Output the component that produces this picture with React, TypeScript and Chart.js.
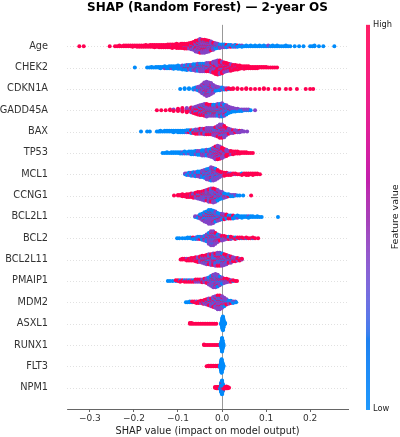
import { useEffect, useRef } from 'react';
import { Chart, registerables } from 'chart.js';

Chart.register(...registerables);

const TITLE = 'SHAP (Random Forest) \u2014 2-year OS';
const X_LABEL = 'SHAP value (impact on model output)';
const COLORBAR_LABEL = 'Feature value';
const COLORBAR_HIGH = 'High';
const COLORBAR_LOW = 'Low';

const FEATURES = ['Age', 'CHEK2', 'CDKN1A', 'GADD45A', 'BAX', 'TP53', 'MCL1', 'CCNG1', 'BCL2L1', 'BCL2', 'BCL2L11', 'PMAIP1', 'MDM2', 'ASXL1', 'RUNX1', 'FLT3', 'NPM1'];
const X_TICKS = [-0.3, -0.2, -0.1, 0, 0.1, 0.2];
const X_MIN = -0.352;
const X_MAX = 0.286;

// feature-value level of each group of points: low (blue), mid (purple), high (red)
const FEATURE_VALUE_LEVELS = [0, 0.4, 1];

// each entry: [SHAP value, points with low value, mid value, high value]
const AGE = [
  [-0.324, 0, 0, 1], [-0.314, 0, 0, 1], [-0.255, 0, 0, 1], [-0.243, 0, 0, 1], [-0.238, 0, 0, 1], [-0.233, 0, 0, 2],
  [-0.228, 0, 0, 1], [-0.223, 0, 0, 2], [-0.218, 0, 0, 2], [-0.213, 0, 0, 2], [-0.208, 0, 0, 2], [-0.203, 0, 0, 3],
  [-0.198, 0, 0, 2], [-0.193, 0, 0, 3], [-0.188, 0, 0, 3], [-0.183, 0, 0, 3], [-0.178, 0, 0, 3], [-0.173, 0, 0, 4],
  [-0.168, 0, 0, 3], [-0.163, 0, 0, 4], [-0.158, 0, 0, 4], [-0.153, 0, 0, 5], [-0.148, 0, 0, 4], [-0.143, 0, 0, 5],
  [-0.138, 0, 0, 5], [-0.133, 0, 0, 5], [-0.128, 0, 0, 5], [-0.123, 0, 1, 5], [-0.118, 0, 0, 6], [-0.113, 0, 1, 6],
  [-0.108, 0, 0, 6], [-0.103, 0, 1, 7], [-0.098, 0, 0, 7], [-0.093, 0, 1, 7], [-0.089, 0, 1, 7], [-0.085, 0, 2, 7],
  [-0.08, 0, 2, 7], [-0.075, 0, 3, 7], [-0.07, 1, 4, 7], [-0.065, 1, 6, 7],
  [-0.06, 2, 9, 8], [-0.055, 2, 11, 8], [-0.05, 3, 13, 8], [-0.045, 3, 13, 7], [-0.04, 3, 13, 7], [-0.035, 3, 12, 6],
  [-0.03, 3, 11, 5], [-0.025, 3, 9, 4], [-0.02, 3, 7, 3], [-0.015, 3, 5, 2], [-0.01, 3, 4, 1], [-0.005, 3, 3, 1],
  [0.0, 3, 2, 1], [0.005, 3, 2, 1], [0.01, 3, 1, 1], [0.015, 3, 1, 0], [0.02, 2, 1, 1], [0.025, 2, 1, 0],
  [0.03, 3, 1, 0], [0.035, 2, 0, 1], [0.04, 2, 0, 0], [0.045, 2, 1, 0], [0.05, 1, 0, 0], [0.055, 2, 0, 0],
  [0.06, 1, 0, 0], [0.065, 2, 0, 0], [0.07, 1, 0, 0], [0.075, 2, 0, 0], [0.08, 1, 0, 0], [0.085, 2, 0, 0],
  [0.09, 1, 0, 0], [0.095, 2, 0, 0], [0.1, 1, 0, 0], [0.105, 1, 1, 0], [0.11, 1, 0, 0], [0.115, 2, 0, 0],
  [0.12, 1, 0, 0], [0.125, 2, 0, 0], [0.13, 1, 0, 0], [0.135, 1, 0, 0], [0.14, 1, 0, 0], [0.145, 2, 0, 0],
  [0.15, 1, 0, 0], [0.155, 1, 0, 0], [0.165, 1, 0, 0], [0.175, 1, 0, 0], [0.185, 1, 0, 0], [0.2, 1, 0, 0],
  [0.205, 1, 0, 0], [0.21, 2, 0, 0], [0.22, 1, 0, 0], [0.23, 1, 0, 0], [0.255, 1, 0, 0],
];
const CHEK2 = [
  [-0.198, 1, 0, 0], [-0.17, 1, 0, 0], [-0.165, 1, 0, 0], [-0.16, 2, 0, 0], [-0.155, 1, 0, 0], [-0.15, 2, 0, 0],
  [-0.145, 2, 0, 0], [-0.14, 3, 0, 0], [-0.135, 2, 0, 0], [-0.13, 3, 1, 0], [-0.125, 3, 0, 0], [-0.12, 4, 0, 0],
  [-0.115, 3, 1, 0], [-0.11, 4, 1, 0], [-0.105, 4, 0, 0], [-0.1, 5, 1, 0], [-0.095, 4, 1, 0], [-0.09, 5, 2, 0],
  [-0.085, 5, 1, 1], [-0.08, 6, 2, 1], [-0.075, 5, 2, 1], [-0.07, 5, 3, 1],
  [-0.065, 5, 4, 1], [-0.06, 5, 5, 1], [-0.055, 4, 6, 2], [-0.05, 4, 7, 2], [-0.045, 4, 7, 2], [-0.04, 3, 8, 2],
  [-0.035, 3, 8, 3], [-0.03, 3, 7, 4], [-0.025, 2, 8, 5], [-0.02, 2, 9, 7], [-0.015, 1, 10, 10], [-0.01, 1, 10, 12],
  [-0.005, 1, 9, 12], [0.0, 1, 7, 11], [0.005, 0, 6, 10], [0.01, 0, 5, 9], [0.015, 0, 4, 8], [0.02, 0, 3, 8],
  [0.025, 0, 2, 7], [0.03, 0, 2, 6], [0.035, 0, 1, 6], [0.04, 0, 1, 5], [0.045, 0, 0, 4], [0.05, 0, 1, 4],
  [0.055, 0, 0, 4], [0.06, 0, 0, 4], [0.065, 0, 0, 3], [0.07, 0, 0, 3], [0.075, 0, 0, 3], [0.08, 0, 0, 3],
  [0.085, 0, 0, 2], [0.09, 0, 0, 2], [0.095, 0, 0, 2], [0.1, 0, 0, 2], [0.105, 0, 0, 1], [0.11, 0, 0, 1],
  [0.115, 0, 0, 1], [0.12, 0, 0, 1], [0.125, 0, 0, 1],
];
const CDKN1A = [
  [-0.095, 1, 0, 0], [-0.085, 2, 0, 0], [-0.075, 2, 0, 0], [-0.065, 3, 0, 0], [-0.06, 3, 1, 0], [-0.055, 2, 3, 1],
  [-0.05, 2, 6, 1], [-0.045, 3, 10, 2], [-0.04, 3, 14, 3], [-0.035, 3, 16, 4], [-0.03, 3, 15, 3], [-0.025, 3, 12, 3],
  [-0.02, 2, 9, 2], [-0.015, 2, 5, 1], [-0.01, 2, 3, 1], [-0.005, 3, 2, 0], [0.0, 3, 1, 0], [0.005, 2, 1, 0],
  [0.01, 1, 1, 1], [0.015, 1, 0, 1], [0.02, 0, 0, 1], [0.025, 0, 0, 2], [0.035, 0, 0, 2], [0.045, 0, 0, 1],
  [0.055, 0, 0, 2], [0.065, 0, 0, 1], [0.075, 0, 0, 1], [0.085, 0, 0, 1], [0.095, 0, 0, 2], [0.105, 0, 0, 1],
  [0.12, 0, 0, 1], [0.13, 0, 0, 1], [0.145, 0, 0, 1], [0.155, 0, 0, 1], [0.17, 0, 0, 1], [0.19, 0, 0, 1],
  [0.2, 0, 0, 1], [0.207, 0, 0, 1],
];
const GADD45A = [
  [-0.148, 0, 0, 1], [-0.138, 0, 0, 1], [-0.128, 0, 0, 1], [-0.118, 0, 0, 2], [-0.11, 0, 1, 2], [-0.1, 0, 1, 3],
  [-0.09, 1, 1, 4], [-0.08, 0, 2, 5], [-0.07, 1, 2, 5], [-0.065, 1, 3, 5], [-0.06, 2, 4, 5], [-0.055, 2, 5, 6],
  [-0.05, 3, 6, 6], [-0.045, 3, 7, 6], [-0.04, 4, 8, 6], [-0.035, 4, 9, 6], [-0.03, 4, 8, 5], [-0.025, 4, 8, 5],
  [-0.02, 5, 8, 4], [-0.015, 5, 8, 4], [-0.01, 5, 9, 4], [-0.005, 6, 9, 4], [0.0, 6, 10, 4], [0.005, 5, 9, 3],
  [0.01, 5, 7, 2], [0.015, 4, 5, 1], [0.02, 3, 4, 1], [0.025, 3, 3, 0], [0.03, 3, 2, 0], [0.035, 2, 2, 0],
  [0.04, 2, 1, 0], [0.045, 2, 1, 0], [0.05, 1, 1, 0], [0.055, 1, 1, 0], [0.06, 1, 1, 0], [0.065, 1, 0, 0], [0.075, 0, 1, 0],
];
const BAX = [
  [-0.184, 1, 0, 0], [-0.17, 1, 0, 0], [-0.164, 1, 0, 0], [-0.148, 1, 0, 0], [-0.144, 1, 0, 0], [-0.14, 2, 0, 0],
  [-0.135, 1, 0, 0], [-0.13, 2, 0, 0], [-0.125, 2, 0, 0], [-0.12, 2, 0, 0], [-0.115, 2, 0, 0], [-0.11, 3, 0, 0],
  [-0.105, 2, 0, 0], [-0.1, 3, 0, 0], [-0.095, 3, 0, 0], [-0.09, 3, 0, 0], [-0.085, 3, 0, 0], [-0.08, 3, 1, 0],
  [-0.075, 3, 0, 1], [-0.07, 3, 1, 1],
  [-0.065, 2, 1, 2], [-0.06, 2, 2, 3], [-0.055, 2, 2, 3], [-0.05, 2, 3, 3], [-0.045, 2, 4, 2], [-0.04, 2, 5, 2],
  [-0.035, 2, 6, 2], [-0.03, 2, 6, 2], [-0.025, 2, 6, 2], [-0.02, 2, 7, 2], [-0.015, 2, 8, 3], [-0.01, 2, 10, 4],
  [-0.005, 3, 12, 5], [0.0, 2, 12, 6], [0.005, 2, 10, 5], [0.01, 1, 7, 3], [0.015, 1, 5, 2], [0.02, 1, 4, 1],
  [0.025, 1, 3, 1], [0.03, 0, 3, 1], [0.035, 0, 3, 0], [0.04, 0, 2, 1], [0.045, 0, 2, 0], [0.05, 0, 1, 0], [0.057, 0, 1, 0],
];
const TP53 = [
  [-0.135, 1, 0, 0], [-0.13, 1, 0, 0], [-0.125, 2, 0, 0], [-0.12, 1, 0, 0], [-0.115, 2, 0, 0], [-0.11, 2, 0, 0],
  [-0.105, 2, 0, 0], [-0.1, 2, 0, 0], [-0.095, 3, 0, 0], [-0.09, 2, 1, 0], [-0.085, 3, 1, 0], [-0.08, 3, 0, 0],
  [-0.075, 3, 1, 0], [-0.07, 4, 1, 0], [-0.065, 4, 1, 0], [-0.06, 4, 2, 0], [-0.055, 4, 2, 1], [-0.05, 4, 3, 0],
  [-0.045, 4, 4, 1], [-0.04, 4, 4, 1], [-0.035, 4, 5, 1], [-0.03, 3, 6, 2], [-0.025, 3, 8, 2], [-0.02, 3, 10, 3],
  [-0.015, 3, 13, 5], [-0.01, 2, 14, 6], [-0.005, 2, 12, 6], [0.0, 1, 10, 6], [0.005, 1, 7, 5], [0.01, 1, 5, 5],
  [0.015, 0, 3, 4], [0.02, 0, 2, 4], [0.025, 0, 1, 4], [0.03, 0, 1, 3], [0.035, 0, 1, 3], [0.04, 0, 0, 3],
  [0.045, 0, 0, 2], [0.05, 0, 0, 2], [0.055, 0, 0, 2], [0.06, 0, 0, 1], [0.065, 0, 0, 1], [0.07, 0, 0, 1],
];
const MCL1 = [
  [-0.084, 1, 1, 0], [-0.08, 2, 1, 0], [-0.075, 3, 1, 0], [-0.07, 3, 2, 0], [-0.065, 4, 2, 0], [-0.06, 4, 3, 0],
  [-0.055, 4, 3, 1], [-0.05, 4, 4, 1], [-0.045, 4, 5, 1], [-0.04, 5, 6, 1], [-0.035, 5, 8, 2], [-0.03, 5, 10, 2],
  [-0.025, 5, 12, 3], [-0.02, 4, 12, 3], [-0.015, 4, 10, 3], [-0.01, 3, 7, 3], [-0.005, 2, 4, 3], [0.0, 1, 2, 3],
  [0.005, 1, 1, 3], [0.01, 0, 1, 3], [0.015, 0, 1, 2], [0.02, 0, 1, 2], [0.025, 0, 0, 2], [0.03, 0, 1, 1],
  [0.035, 0, 0, 1], [0.04, 0, 0, 1], [0.045, 1, 0, 2], [0.05, 0, 0, 2], [0.055, 0, 0, 3], [0.06, 0, 0, 3], [0.065, 0, 0, 2],
  [0.07, 0, 0, 3], [0.075, 0, 0, 2], [0.08, 0, 0, 2], [0.086, 0, 0, 1],
];
const CCNG1 = [
  [-0.109, 0, 0, 1], [-0.1, 0, 0, 2], [-0.095, 0, 0, 2], [-0.09, 0, 1, 3], [-0.085, 0, 0, 3], [-0.08, 1, 1, 3],
  [-0.075, 0, 1, 4], [-0.07, 1, 1, 4], [-0.065, 1, 2, 4], [-0.06, 1, 3, 4], [-0.055, 2, 4, 4], [-0.05, 2, 5, 4],
  [-0.045, 2, 7, 4], [-0.04, 3, 8, 4], [-0.035, 3, 9, 4], [-0.03, 4, 10, 5], [-0.025, 4, 11, 5], [-0.02, 4, 12, 5],
  [-0.015, 4, 11, 4], [-0.01, 4, 9, 3], [-0.005, 3, 7, 2], [0.0, 3, 5, 2], [0.005, 3, 3, 1], [0.01, 2, 2, 1],
  [0.015, 2, 1, 1], [0.02, 2, 1, 0], [0.025, 2, 1, 0], [0.03, 1, 1, 0], [0.035, 1, 0, 0], [0.04, 1, 0, 0],
  [0.048, 1, 0, 0], [0.066, 0, 0, 1],
];
const BCL2L1 = [
  [-0.061, 1, 1, 0], [-0.055, 2, 1, 0], [-0.05, 3, 2, 1], [-0.045, 4, 4, 1], [-0.04, 5, 6, 2], [-0.035, 5, 8, 2],
  [-0.03, 6, 10, 3], [-0.025, 6, 10, 3], [-0.02, 5, 9, 3], [-0.015, 5, 7, 2], [-0.01, 4, 5, 2], [-0.005, 3, 4, 2],
  [0.0, 3, 3, 2], [0.005, 2, 2, 3], [0.01, 2, 1, 3], [0.015, 2, 1, 2], [0.02, 2, 1, 2], [0.025, 3, 1, 1],
  [0.03, 3, 0, 0], [0.035, 3, 1, 0], [0.04, 2, 0, 0], [0.045, 3, 0, 0], [0.05, 2, 0, 0], [0.055, 2, 0, 0],
  [0.06, 2, 1, 0], [0.065, 2, 0, 0], [0.07, 2, 0, 0], [0.075, 1, 0, 0], [0.08, 2, 0, 0], [0.085, 1, 0, 0],
  [0.09, 1, 0, 0], [0.127, 1, 0, 0],
];
const BCL2 = [
  [-0.102, 1, 0, 0], [-0.097, 1, 0, 0], [-0.09, 1, 0, 0], [-0.084, 1, 0, 0], [-0.078, 2, 0, 0], [-0.072, 2, 0, 0],
  [-0.066, 2, 0, 1], [-0.06, 2, 1, 0], [-0.055, 3, 1, 0], [-0.05, 2, 1, 1], [-0.045, 3, 2, 0], [-0.04, 3, 3, 1],
  [-0.035, 3, 6, 1], [-0.03, 4, 9, 2], [-0.025, 4, 12, 3], [-0.02, 4, 12, 3], [-0.015, 3, 9, 3], [-0.01, 3, 6, 2],
  [-0.005, 2, 4, 2], [0.0, 2, 3, 2], [0.005, 2, 2, 2], [0.01, 1, 1, 2], [0.015, 2, 1, 1], [0.02, 1, 1, 2],
  [0.025, 1, 0, 1], [0.03, 1, 0, 2], [0.035, 1, 0, 1], [0.04, 0, 0, 2], [0.045, 1, 0, 1], [0.05, 0, 0, 1],
  [0.055, 1, 0, 1], [0.06, 0, 0, 1], [0.065, 0, 0, 1], [0.07, 1, 0, 1], [0.075, 0, 0, 1], [0.082, 0, 0, 1],
];
const BCL2L11 = [
  [-0.094, 0, 0, 1], [-0.09, 0, 0, 2], [-0.085, 0, 0, 2], [-0.08, 0, 1, 2], [-0.075, 0, 0, 3], [-0.07, 1, 0, 3],
  [-0.065, 0, 1, 3], [-0.06, 1, 1, 4], [-0.055, 1, 2, 4], [-0.05, 1, 3, 4], [-0.045, 2, 4, 4], [-0.04, 2, 5, 4],
  [-0.035, 3, 6, 4], [-0.03, 3, 7, 4], [-0.025, 3, 8, 4], [-0.02, 4, 8, 4], [-0.015, 4, 9, 4], [-0.01, 4, 10, 4],
  [-0.005, 4, 10, 4], [0.0, 4, 10, 3], [0.005, 3, 9, 3], [0.01, 3, 7, 3], [0.015, 2, 5, 3], [0.02, 2, 4, 3],
  [0.025, 1, 3, 2], [0.03, 1, 2, 2], [0.035, 0, 2, 2], [0.04, 0, 1, 2], [0.045, 0, 1, 1],
];
const PMAIP1 = [
  [-0.123, 1, 0, 0], [-0.118, 1, 0, 0], [-0.112, 1, 0, 0], [-0.105, 1, 0, 1], [-0.1, 0, 0, 2], [-0.095, 1, 0, 2],
  [-0.09, 0, 0, 2], [-0.085, 1, 0, 2], [-0.08, 0, 1, 2], [-0.075, 1, 0, 2], [-0.07, 0, 1, 2], [-0.065, 1, 0, 2],
  [-0.06, 1, 1, 2], [-0.055, 1, 1, 2], [-0.05, 1, 1, 2], [-0.045, 1, 2, 2], [-0.04, 2, 2, 2], [-0.035, 2, 4, 2],
  [-0.03, 3, 6, 2], [-0.025, 4, 9, 2], [-0.02, 4, 12, 3], [-0.015, 4, 13, 3], [-0.01, 4, 11, 3], [-0.005, 3, 8, 2],
  [0.0, 3, 5, 2], [0.005, 2, 3, 2], [0.01, 2, 2, 2], [0.015, 1, 1, 2], [0.02, 1, 1, 1], [0.025, 1, 0, 1],
  [0.03, 0, 0, 1], [0.034, 0, 0, 1],
];
const MDM2 = [
  [-0.082, 1, 0, 0], [-0.078, 1, 0, 0], [-0.073, 2, 0, 0], [-0.068, 1, 0, 1], [-0.063, 0, 0, 2], [-0.058, 0, 1, 2],
  [-0.053, 0, 0, 3], [-0.048, 1, 1, 2], [-0.043, 1, 1, 3], [-0.04, 1, 2, 3], [-0.035, 2, 3, 3], [-0.03, 2, 5, 3],
  [-0.025, 2, 6, 3], [-0.02, 3, 8, 3], [-0.015, 3, 10, 3], [-0.01, 3, 12, 4], [-0.005, 3, 12, 4], [0.0, 3, 10, 3],
  [0.005, 3, 7, 2], [0.01, 2, 4, 2], [0.015, 2, 2, 1], [0.02, 2, 1, 1], [0.025, 2, 1, 0], [0.03, 1, 1, 0], [0.032, 1, 0, 0],
];
const ASXL1 = [
  [-0.073, 0, 0, 2], [-0.069, 0, 0, 2], [-0.065, 0, 0, 1], [-0.061, 0, 0, 1], [-0.057, 0, 0, 1], [-0.053, 0, 0, 1],
  [-0.049, 0, 0, 1], [-0.045, 0, 0, 1], [-0.041, 0, 0, 1], [-0.037, 0, 0, 1], [-0.033, 0, 0, 1], [-0.029, 0, 0, 1],
  [-0.025, 0, 0, 1], [-0.021, 0, 0, 1], [-0.017, 0, 0, 1], [-0.013, 0, 0, 1],
  [-0.002, 3, 0, 0], [0.0, 10, 0, 0], [0.001, 20, 0, 0], [0.002, 24, 0, 0], [0.003, 16, 0, 0], [0.005, 6, 0, 0], [0.007, 2, 0, 0],
];
const RUNX1 = [
  [-0.041, 0, 0, 2], [-0.037, 0, 0, 1], [-0.033, 0, 0, 1], [-0.029, 0, 0, 1], [-0.025, 0, 0, 1], [-0.021, 0, 0, 1],
  [-0.017, 0, 0, 1], [-0.013, 0, 0, 1], [-0.009, 0, 0, 1], [-0.006, 0, 0, 1],
  [-0.003, 4, 0, 0], [-0.001, 14, 0, 0], [0.0, 24, 0, 0], [0.001, 16, 0, 0], [0.003, 5, 0, 0],
];
const FLT3 = [
  [-0.035, 0, 0, 1], [-0.031, 0, 0, 2], [-0.027, 0, 0, 2], [-0.023, 0, 0, 2], [-0.019, 0, 0, 2], [-0.015, 0, 0, 2],
  [-0.011, 0, 0, 2], [-0.008, 0, 0, 2], [-0.005, 0, 0, 1],
  [-0.004, 5, 0, 0], [-0.002, 16, 0, 0], [-0.001, 24, 0, 0], [0.001, 12, 0, 0], [0.003, 4, 0, 0],
];
const NPM1 = [
  [-0.016, 0, 0, 2], [-0.013, 0, 0, 3], [-0.01, 0, 0, 3], [-0.007, 0, 0, 3], [-0.004, 3, 0, 2], [-0.002, 16, 0, 2],
  [0.0, 24, 0, 2], [0.002, 10, 0, 3], [0.004, 2, 0, 3], [0.007, 0, 0, 3], [0.01, 0, 0, 4], [0.013, 0, 0, 3], [0.016, 0, 0, 1],
];

const FEATURE_ROWS = [AGE, CHEK2, CDKN1A, GADD45A, BAX, TP53, MCL1, CCNG1, BCL2L1, BCL2, BCL2L11, PMAIP1, MDM2, ASXL1, RUNX1, FLT3, NPM1];

// shap "red_blue" colormap (LCH interpolation)
function redBlue(t: number): string {
  const L = t < 0.5 ? 54 + (40 - 54) * (t / 0.5) : 40 + (54 - 40) * ((t - 0.5) / 0.5);
  const C = 70 + 20 * t;
  const h = 4.6588 + (0.35470565 + 2 * Math.PI - 4.6588) * t;
  const a = C * Math.cos(h);
  const b = C * Math.sin(h);
  const fy = (L + 16) / 116;
  const fx = fy + a / 500;
  const fz = fy - b / 200;
  const finv = (v: number) => (v * v * v > 0.008856 ? v * v * v : (v - 16 / 116) / 7.787);
  const X = 0.95047 * finv(fx);
  const Y = 1.0 * finv(fy);
  const Z = 1.08883 * finv(fz);
  const lin = [
    3.2406 * X - 1.5372 * Y - 0.4986 * Z,
    -0.9689 * X + 1.8758 * Y + 0.0415 * Z,
    0.0557 * X - 0.204 * Y + 1.057 * Z,
  ];
  const rgb = lin.map((c) => {
    const g = c <= 0.0031308 ? 12.92 * c : 1.055 * Math.pow(Math.max(c, 0), 1 / 2.4) - 0.055;
    return Math.round(Math.min(1, Math.max(0, g)) * 255);
  });
  return `rgb(${rgb[0]},${rgb[1]},${rgb[2]})`;
}

// beeswarm layout (same stacking rule as shap's summary plot)
function buildPoints() {
  const points: { x: number; y: number }[] = [];
  const colors: string[] = [];
  const levelColors = FEATURE_VALUE_LEVELS.map(redBlue);
  FEATURE_ROWS.forEach((rows, rowIndex) => {
    const stacks = rows.map((r) => {
      const items: { c: number; key: number }[] = [];
      [r[1], r[2], r[3]].forEach((n, c) => {
        for (let j = 0; j < n; j++) items.push({ c, key: (j + 0.5) / n });
      });
      items.sort((p, q) => p.key - q.key || p.c - q.c);
      return { x: r[0], items };
    });
    let maxYs = 0;
    stacks.forEach((s) =>
      s.items.forEach((_, layer) => {
        const ys = Math.ceil(layer / 2) * ((layer % 2) * 2 - 1);
        if (ys > maxYs) maxYs = ys;
      })
    );
    const scale = (0.9 * 0.4) / (maxYs + 1);
    stacks.forEach((s) =>
      s.items.forEach((it, layer) => {
        const ys = Math.ceil(layer / 2) * ((layer % 2) * 2 - 1);
        points.push({ x: s.x, y: rowIndex - ys * scale });
        colors.push(levelColors[it.c]);
      })
    );
  });
  return { points, colors };
}

const FONT = "'DejaVu Sans', sans-serif";

const decorPlugin = {
  id: 'shapDecor',
  beforeDatasetsDraw(chart: any) {
    const { ctx, chartArea, scales } = chart;
    const ys = scales.y;
    const xs = scales.x;
    ctx.save();
    ctx.strokeStyle = '#cccccc';
    ctx.lineWidth = 0.6;
    ctx.setLineDash([1, 2]);
    for (let i = 0; i < FEATURES.length; i++) {
      const py = Math.round(ys.getPixelForValue(i)) + 0.5;
      ctx.beginPath();
      ctx.moveTo(chartArea.left, py);
      ctx.lineTo(chartArea.right, py);
      ctx.stroke();
    }
    ctx.setLineDash([]);
    const px = Math.round(xs.getPixelForValue(0)) + 0.5;
    ctx.strokeStyle = '#999999';
    ctx.lineWidth = 1;
    ctx.beginPath();
    ctx.moveTo(px, chartArea.top);
    ctx.lineTo(px, chartArea.bottom);
    ctx.stroke();
    ctx.restore();
  },
  afterDraw(chart: any) {
    const { ctx, chartArea } = chart;
    ctx.save();
    // title
    ctx.fillStyle = '#000000';
    ctx.font = `bold 12px ${FONT}`;
    ctx.textAlign = 'center';
    ctx.textBaseline = 'alphabetic';
    ctx.fillText(TITLE, (chartArea.left + chartArea.right) / 2, 11);
    // x label
    ctx.font = `9.75px ${FONT}`;
    ctx.fillStyle = '#222222';
    ctx.fillText(X_LABEL, (chartArea.left + chartArea.right) / 2, 434);
    // colorbar
    const cbLeft = chartArea.right + 18;
    const cbWidth = 4;
    const top = chartArea.top;
    const bottom = chartArea.bottom;
    for (let py = top; py < bottom; py++) {
      const t = 1 - (py + 0.5 - top) / (bottom - top);
      ctx.fillStyle = redBlue(t);
      ctx.fillRect(cbLeft, py, cbWidth, 1);
    }
    ctx.fillStyle = '#222222';
    ctx.font = `8.25px ${FONT}`;
    ctx.textAlign = 'left';
    ctx.textBaseline = 'middle';
    ctx.fillText(COLORBAR_HIGH, cbLeft + 7, top);
    ctx.fillText(COLORBAR_LOW, cbLeft + 7, bottom);
    ctx.translate(cbLeft + 30, (top + bottom) / 2);
    ctx.rotate(-Math.PI / 2);
    ctx.textAlign = 'center';
    ctx.font = `9.5px ${FONT}`;
    ctx.fillText(COLORBAR_LABEL, 0, 0);
    ctx.restore();
  },
};

export default function App() {
  const ref = useRef<HTMLCanvasElement | null>(null);
  useEffect(() => {
    if (!ref.current) return;
    const { points, colors } = buildPoints();
    const chart = new Chart(ref.current, {
      type: 'scatter',
      data: {
        datasets: [
          {
            data: points,
            pointBackgroundColor: colors,
            pointBorderWidth: 0,
            pointRadius: 2,
            pointHoverRadius: 2,
          },
        ],
      },
      options: {
        responsive: false,
        animation: false,
        events: [],
        devicePixelRatio: 1,
        layout: { padding: { left: 0, right: 52, top: 15, bottom: 0 } },
        plugins: { legend: { display: false }, tooltip: { enabled: false }, title: { display: false } },
        scales: {
          x: {
            type: 'linear',
            min: X_MIN,
            max: X_MAX,
            afterFit: (s: any) => {
              s.height = 28;
            },
            afterBuildTicks: (s: any) => {
              s.ticks = X_TICKS.map((v) => ({ value: v }));
            },
            grid: {
              display: true,
              drawOnChartArea: false,
              drawTicks: true,
              tickLength: 3,
              tickColor: '#333333',
              tickWidth: 0.75,
            },
            border: { display: true, color: '#333333', width: 0.75 },
            ticks: {
              autoSkip: false,
              maxRotation: 0,
              padding: 1,
              color: '#333333',
              font: { family: FONT, size: 9 },
              callback: (v: any) => {
                const n = Number(v);
                return (n < 0 ? '\u2212' : '') + Math.abs(n).toFixed(1);
              },
            },
          },
          y: {
            type: 'linear',
            min: -1,
            max: FEATURES.length,
            reverse: true,
            afterFit: (s: any) => {
              s.width = 67;
            },
            afterBuildTicks: (s: any) => {
              s.ticks = FEATURES.map((_, i) => ({ value: i }));
            },
            grid: { display: false, drawTicks: false },
            border: { display: false },
            ticks: {
              autoSkip: false,
              padding: 19,
              color: '#333333',
              font: { family: FONT, size: 9.75 },
              callback: (v: any) => FEATURES[Number(v)] ?? '',
            },
          },
        },
      },
      plugins: [decorPlugin],
    } as any);
    return () => chart.destroy();
  }, []);
  return (
    <div style={{ position: 'fixed', left: 0, top: 0, width: 400, height: 437, background: '#ffffff' }}>
      <canvas ref={ref} width={400} height={437} style={{ display: 'block', width: 400, height: 437 }} />
    </div>
  );
}
